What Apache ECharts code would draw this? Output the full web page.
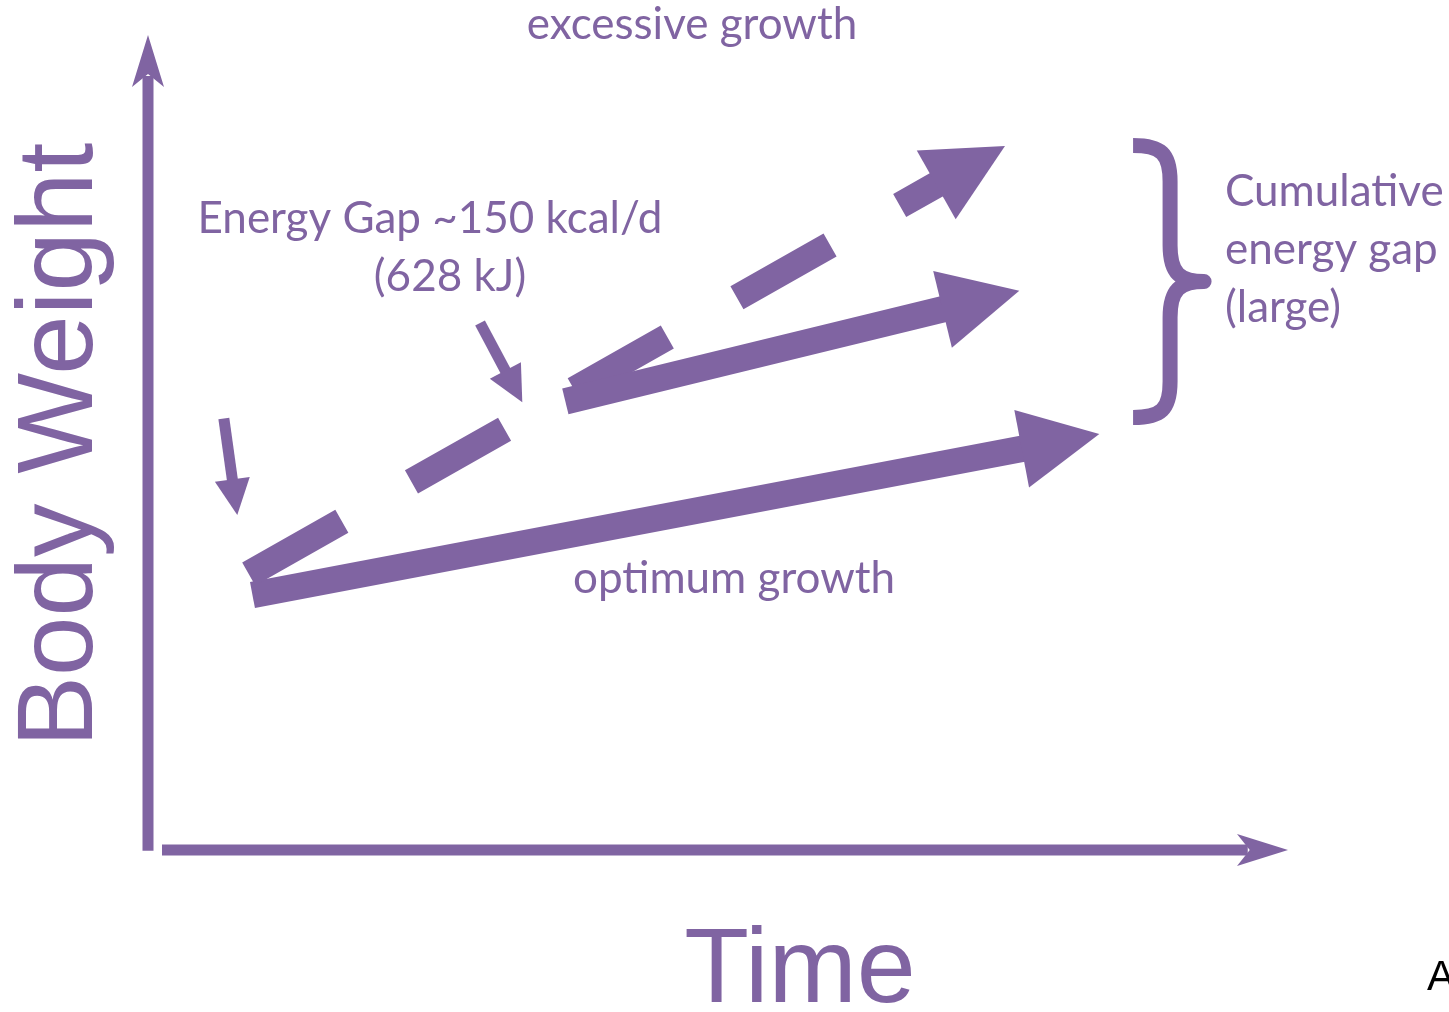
<!DOCTYPE html>
<html>
<head>
<meta charset="utf-8">
<title>Body weight over time – energy gap</title>
<script src="https://cdn.jsdelivr.net/npm/echarts@6/dist/echarts.min.js"></script>
<style>
  html, body { margin: 0; padding: 0; background: #ffffff; }
  #chart { width: 1449px; height: 1012px; }
</style>
</head>
<body>
<div id="chart"></div>
<script>
// Axis ranges (arbitrary units of time and body weight)
const timeRange = [0, 100];
const weightRange = [0, 100];

// Growth trajectories: [time, weight] at the start and at the arrow tip
const optimumGrowth = [[8.22, 32.32], [85.17, 52.72]];
const excessiveGrowth = [[7.88, 34.98], [76.60, 89.23]];
const energyGapGrowth = [[36.65, 56.87], [77.90, 70.89]];

// Pointers marking where the energy gap starts
const gapOnsetPointer = [[5.62, 54.69], [6.84, 42.46]];
const gapLaterPointer = [[28.90, 66.79], [32.74, 56.74]];

// Cumulative energy gap brace: time, lower weight, upper weight
const cumulativeGapBrace = [88.24, 54.82, 89.29];

// Text
const axisNames = { x: 'Time', y: 'Body Weight' };
const excessiveLabel = 'excessive growth';
const optimumLabel = 'optimum growth';
const energyGapLabel = ['Energy Gap ~150 kcal/d', '(628 kJ)'];
const cumulativeLabel = ['Cumulative', 'energy gap', '(large)'];
const panelLetter = 'A';

const PURPLE = '#8064A2';
const LABEL_FONT = 'Lato, "Open Sans", sans-serif';
const AXIS_FONT = '"Liberation Sans", Arial, sans-serif';

// Thick shaft + triangular head, computed in pixel space from two data points
function arrowRenderer(opt) {
  return function (params, api) {
    const p0 = api.coord([api.value(0), api.value(1)]);
    const p1 = api.coord([api.value(2), api.value(3)]);
    const dx = p1[0] - p0[0], dy = p1[1] - p0[1];
    const len = Math.hypot(dx, dy);
    const ux = dx / len, uy = dy / len;
    const nx = -uy, ny = ux;
    const bx = p1[0] - ux * opt.headLen, by = p1[1] - uy * opt.headLen;
    return {
      type: 'group',
      children: [
        {
          type: 'line',
          shape: { x1: p0[0], y1: p0[1], x2: bx + ux * 2, y2: by + uy * 2 },
          style: { stroke: PURPLE, lineWidth: opt.width, lineCap: 'butt', lineDash: opt.dash || null, fill: null }
        },
        {
          type: 'polygon',
          shape: { points: [
            [p1[0], p1[1]],
            [bx + nx * opt.headHalf, by + ny * opt.headHalf],
            [bx - nx * opt.headHalf, by - ny * opt.headHalf]
          ] },
          style: { fill: PURPLE, stroke: null }
        }
      ]
    };
  };
}

function arrowSeries(name, pts, opt) {
  return {
    type: 'custom',
    name: name,
    coordinateSystem: 'cartesian2d',
    silent: true,
    data: [[pts[0][0], pts[0][1], pts[1][0], pts[1][1]]],
    encode: { x: [0, 2], y: [1, 3] },
    renderItem: arrowRenderer(opt)
  };
}

// Axis line with a notched (stealth) head running past the axis end
function axisArrowRenderer(opt) {
  return function (params, api) {
    const a = api.coord([api.value(0), api.value(1)]);
    const b = api.coord([api.value(2), api.value(3)]);
    const p0 = [a[0] + opt.shift[0], a[1] + opt.shift[1]];
    const e = [b[0] + opt.shift[0], b[1] + opt.shift[1]];
    const dx = e[0] - p0[0], dy = e[1] - p0[1];
    const len = Math.hypot(dx, dy);
    const ux = dx / len, uy = dy / len;
    const nx = -uy, ny = ux;
    const tip = [e[0] + ux * opt.overshoot, e[1] + uy * opt.overshoot];
    const base = [tip[0] - ux * opt.headLen, tip[1] - uy * opt.headLen];
    const notch = [tip[0] - ux * opt.headLen * 0.75, tip[1] - uy * opt.headLen * 0.75];
    return {
      type: 'group',
      children: [
        {
          type: 'line',
          shape: { x1: p0[0] - ux * opt.startExtra, y1: p0[1] - uy * opt.startExtra,
                   x2: notch[0] - ux * 2, y2: notch[1] - uy * 2 },
          style: { stroke: PURPLE, lineWidth: opt.width, lineCap: 'butt', fill: null }
        },
        {
          type: 'polygon',
          shape: { points: [
            tip,
            [base[0] + nx * opt.headHalf, base[1] + ny * opt.headHalf],
            notch,
            [base[0] - nx * opt.headHalf, base[1] - ny * opt.headHalf]
          ] },
          style: { fill: PURPLE, stroke: null }
        }
      ]
    };
  };
}

function axisArrowSeries(name, from, to, opt) {
  return {
    type: 'custom', name: name, coordinateSystem: 'cartesian2d', silent: true,
    data: [[from[0], from[1], to[0], to[1]]],
    encode: { x: [0, 2], y: [1, 3] },
    renderItem: axisArrowRenderer(opt)
  };
}

// Right-facing curly brace spanning two weights at a given time
function braceRenderer(params, api) {
  const top = api.coord([api.value(0), api.value(2)]);
  const bot = api.coord([api.value(0), api.value(1)]);
  const xL = top[0], yT = top[1], yB = bot[1];
  const mid = (yT + yB) / 2;
  const xV = xL + 37, xTip = xL + 71, r = 36;
  const d = [
    'M', xL, yT,
    'C', xL + 28, yT, xV, yT + 8, xV, yT + r,
    'L', xV, mid - r,
    'C', xV, mid - 8, xV + 10, mid, xTip, mid,
    'C', xV + 10, mid, xV, mid + 8, xV, mid + r,
    'L', xV, yB - r,
    'C', xV, yB - 8, xL + 28, yB, xL, yB
  ].join(' ');
  return {
    type: 'path',
    shape: { pathData: d },
    style: { stroke: PURPLE, lineWidth: 15, fill: null, lineJoin: 'round', lineCap: 'butt' }
  };
}

const thick = { width: 26.5, headLen: 79, headHalf: 39.5 };
const thin = { width: 11, headLen: 36, headHalf: 17.6 };

function textEl(text, x, y, size, family, align, color) {
  return {
    type: 'text', x: x, y: y, silent: true,
    style: {
      text: text,
      font: size + 'px ' + family,
      fontSize: size,
      fontFamily: family,
      fill: color || PURPLE,
      align: align, textAlign: align,
      verticalAlign: 'middle', textVerticalAlign: 'middle'
    }
  };
}

const hiddenAxis = {
  axisLine: { show: false }, axisTick: { show: false },
  axisLabel: { show: false }, splitLine: { show: false }
};

const chart = echarts.init(document.getElementById('chart'), null, { renderer: 'canvas' });

chart.setOption({
  animation: false,
  backgroundColor: '#ffffff',
  grid: { left: 162, right: 186.5, top: 61, bottom: 162, outerBoundsMode: 'none', containLabel: false },
  xAxis: Object.assign({ type: 'value', min: timeRange[0], max: timeRange[1] }, hiddenAxis),
  yAxis: Object.assign({ type: 'value', min: weightRange[0], max: weightRange[1] }, hiddenAxis),
  series: [
    axisArrowSeries('time axis', [timeRange[0], weightRange[0]], [timeRange[1], weightRange[0]],
      { shift: [0, 0], overshoot: 25.5, headLen: 51, headHalf: 16, width: 11, startExtra: 0 }),
    axisArrowSeries('weight axis', [timeRange[0], weightRange[0]], [timeRange[0], weightRange[1]],
      { shift: [-14, 0], overshoot: 26, headLen: 52, headHalf: 16, width: 11, startExtra: 0.7 }),
    arrowSeries('optimum growth', optimumGrowth, thick),
    arrowSeries('excessive growth', excessiveGrowth, Object.assign({ dash: [107, 80] }, thick)),
    arrowSeries('energy gap growth', energyGapGrowth, thick),
    arrowSeries('gap onset', gapOnsetPointer, thin),
    arrowSeries('gap pointer', gapLaterPointer, thin),
    {
      type: 'custom', name: 'cumulative energy gap', coordinateSystem: 'cartesian2d', silent: true,
      data: [cumulativeGapBrace], encode: { x: 0, y: [1, 2] },
      renderItem: braceRenderer
    }
  ],
  graphic: [
    textEl(excessiveLabel, 692, 25, 44, LABEL_FONT, 'center'),
    textEl(energyGapLabel[0], 430, 219, 44, LABEL_FONT, 'center'),
    textEl(energyGapLabel[1], 450, 277, 44, LABEL_FONT, 'center'),
    textEl(optimumLabel, 734, 579, 44, LABEL_FONT, 'center'),
    textEl(cumulativeLabel[0], 1225, 192, 44, LABEL_FONT, 'left'),
    textEl(cumulativeLabel[1], 1225, 250, 44, LABEL_FONT, 'left'),
    textEl(cumulativeLabel[2], 1225, 308, 44, LABEL_FONT, 'left'),
    textEl(axisNames.x, 800, 973, 106, AXIS_FONT, 'center'),
    Object.assign(textEl(axisNames.y, 62, 445, 107, AXIS_FONT, 'center'), { rotation: Math.PI / 2 }),
    textEl(panelLetter, 1427, 978.4, 42, AXIS_FONT, 'left', '#000000')
  ]
});
</script>
</body>
</html>
